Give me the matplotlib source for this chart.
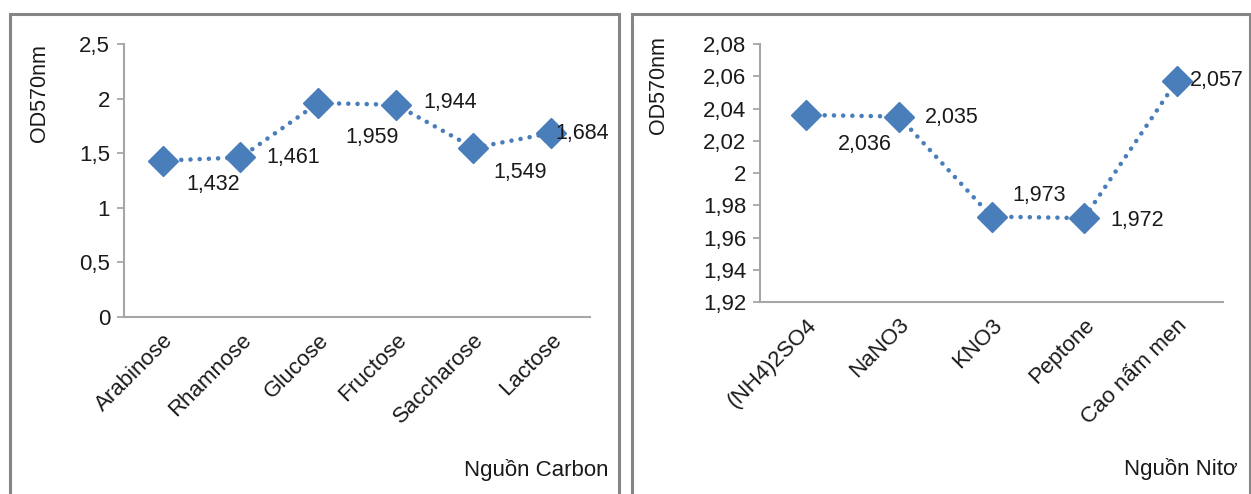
import matplotlib
matplotlib.use("Agg")
import matplotlib.pyplot as plt
from matplotlib.patches import Rectangle

plt.rcParams['font.family'] = ['Liberation Sans', 'DejaVu Sans']

# Carbon sources
carbon_sources = ["Arabinose", "Rhamnose", "Glucose", "Fructose", "Saccharose", "Lactose"]
carbon_od = [1.432, 1.461, 1.959, 1.944, 1.549, 1.684]
carbon_yticks = [0, 0.5, 1, 1.5, 2, 2.5]
carbon_yticklabels = ["0", "0,5", "1", "1,5", "2", "2,5"]

# Nitrogen sources
nitrogen_sources = ["(NH4)2SO4", "NaNO3", "KNO3", "Peptone", "Cao nấm men"]
nitrogen_od = [2.036, 2.035, 1.973, 1.972, 2.057]
nitrogen_yticks = [1.92, 1.94, 1.96, 1.98, 2.00, 2.02, 2.04, 2.06, 2.08]
nitrogen_yticklabels = ["1,92", "1,94", "1,96", "1,98", "2", "2,02", "2,04", "2,06", "2,08"]

# label placement (offset in pixels, horizontal alignment)
carbon_label_pos = [((50, -24), 'center'), ((53, 0), 'center'), ((54, -34), 'center'),
                    ((54, 2), 'center'), ((47, -25), 'center'), ((4, 0), 'left')]
nitrogen_label_pos = [((59, -30), 'center'), ((53, -1), 'center'), ((48, 21), 'center'),
                      ((53, -2), 'center'), ((13, 1), 'left')]

W, H = 1251, 494
fig = plt.figure(figsize=(W / 100, H / 100), dpi=100)

BLUE = '#4A7EBB'
AXIS_GRAY = '#A6A6A6'
TEXT = '#1a1a1a'
FS = 16


def fmt(v):
    return f"{v:.3f}".replace('.', ',')


def draw_panel(rect, cats, vals, yticks, yticklabels, ylim, label_pos, xlabel, xlabel_xy):
    ax = fig.add_axes(rect)
    x = list(range(len(cats)))
    ax.plot(x, vals, color=BLUE, linestyle=(0, (0.01, 2.0)), linewidth=3.3,
            dash_capstyle='round', zorder=2)
    ax.plot(x, vals, linestyle='none', marker='D', markersize=15.5,
            color=BLUE, markeredgecolor=BLUE, zorder=3)
    ax.set_xlim(-0.5, len(cats) - 0.5)
    ax.set_ylim(*ylim)
    ax.set_yticks(yticks)
    ax.set_yticklabels(yticklabels, fontsize=FS, color=TEXT)
    ax.set_xticks(x)
    ax.set_xticklabels(cats, rotation=45, ha='right', rotation_mode='anchor',
                       fontsize=FS, color=TEXT)
    ax.tick_params(axis='x', length=0, pad=9)
    ax.tick_params(axis='y', length=5, width=1.3, color=AXIS_GRAY, pad=5)
    for s in ('top', 'right'):
        ax.spines[s].set_visible(False)
    for s in ('left', 'bottom'):
        ax.spines[s].set_color(AXIS_GRAY)
        ax.spines[s].set_linewidth(1.5)
    for xi, v, ((dx, dy), ha) in zip(x, vals, label_pos):
        ax.annotate(fmt(v), (xi, v), xytext=(dx, dy), textcoords='offset pixels',
                    ha=ha, va='center', fontsize=FS - 0.5, color=TEXT, zorder=4)
    ax.set_ylabel("OD570nm", fontsize=FS - 0.5, color=TEXT)
    fig.text(xlabel_xy[0] / W, 1 - xlabel_xy[1] / H, xlabel, ha='right', va='center',
             fontsize=FS, color=TEXT)
    return ax


ax1 = draw_panel([124 / W, 1 - 317 / H, 466 / W, 273 / H], carbon_sources, carbon_od,
                 carbon_yticks, carbon_yticklabels, (0, 2.5), carbon_label_pos,
                 "Nguồn Carbon", (608, 470))
ax1.yaxis.set_label_coords(-0.158, 0.82)

ax2 = draw_panel([760 / W, 1 - 302 / H, 463 / W, 258 / H], nitrogen_sources, nitrogen_od,
                 nitrogen_yticks, nitrogen_yticklabels, (1.92, 2.08), nitrogen_label_pos,
                 "Nguồn Nitơ", (1238, 469))
ax2.yaxis.set_label_coords(-0.197, 0.84)

# panel frames
for x0, x1 in [(9.5, 618.5), (631.5, 1249.5)]:
    fig.patches.append(Rectangle((x0 / W, -0.2), (x1 - x0) / W, (1 - 14.5 / H) + 0.2,
                                 transform=fig.transFigure, fill=False,
                                 edgecolor='#858585', linewidth=2.2, zorder=0))

fig.savefig("out.png", dpi=100, facecolor='white')
